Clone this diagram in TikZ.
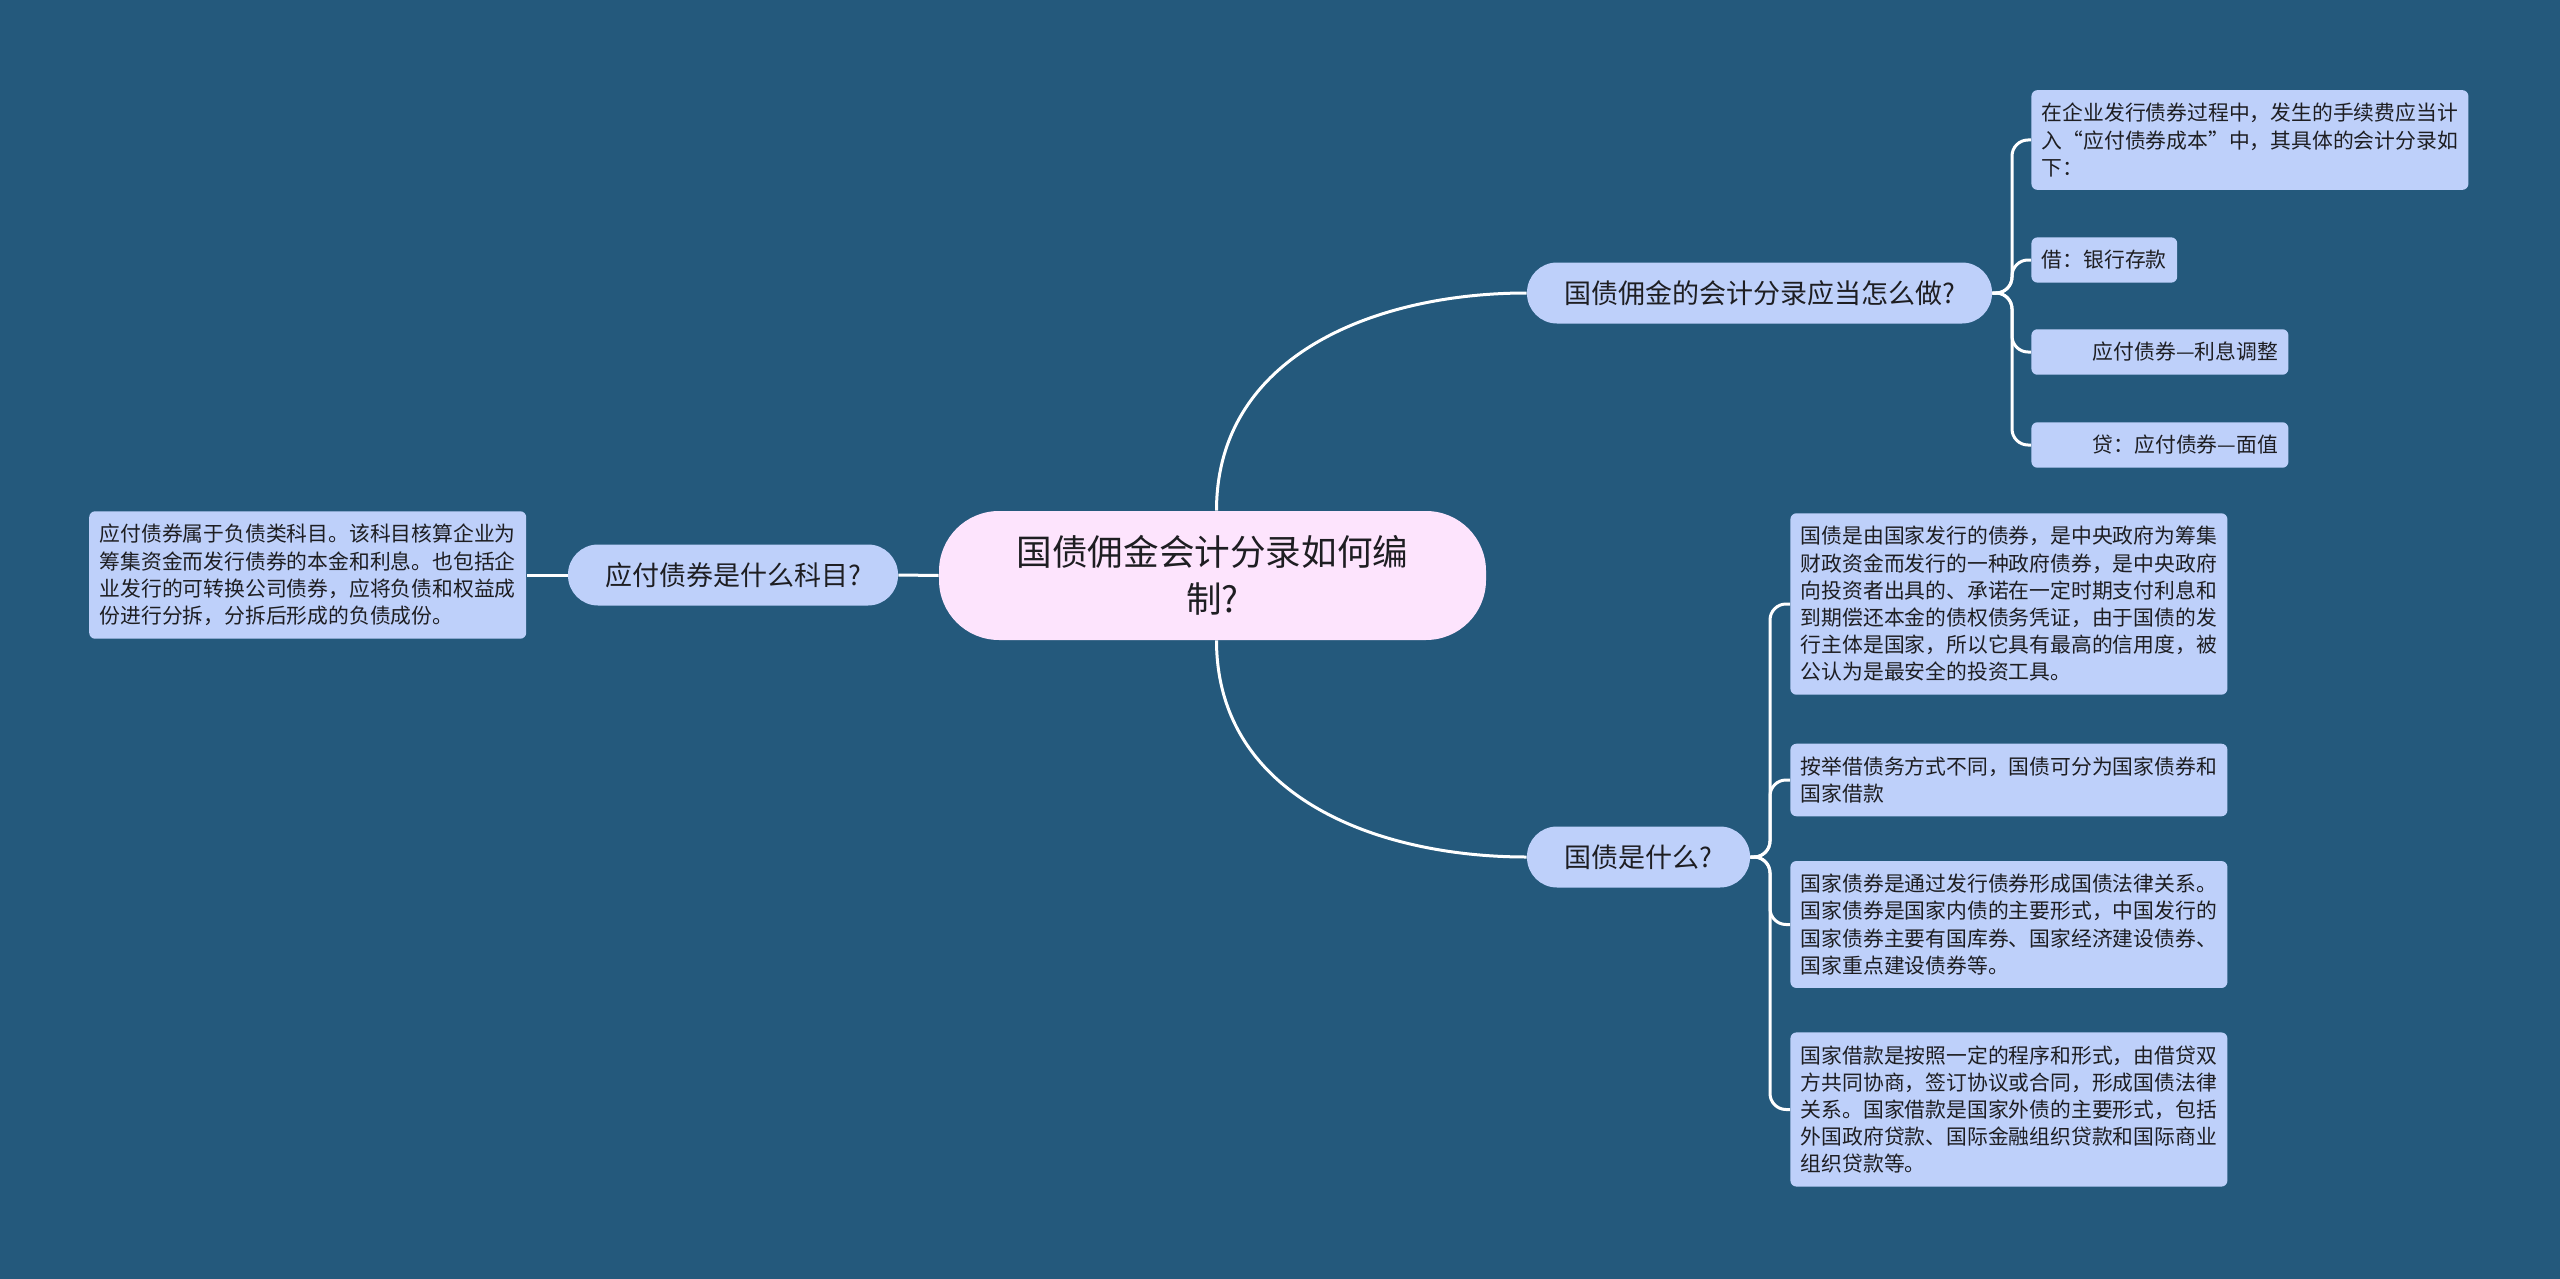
\documentclass[tikz,border=0pt]{standalone}
\usepackage{fontspec}
\setmainfont{Noto Sans CJK SC}
\definecolor{shutubg}{RGB}{36,89,124}
\definecolor{leafblue}{RGB}{190,208,250}
\definecolor{rootpink}{RGB}{253,228,253}
\definecolor{inkgray}{RGB}{30,30,34}
\usetikzlibrary{positioning}
\tikzset{
  root/.style={fill=rootpink, rounded corners=30pt, minimum width=273.5pt,
    minimum height=64.5pt, align=center, text=inkgray,
    font=\fontsize{17.8pt}{23.5pt}\selectfont},
  topic/.style={fill=leafblue, rounded corners=15pt, minimum height=30.5pt,
    text=inkgray, font=\fontsize{13.5pt}{16pt}\selectfont},
  leaf/.style={fill=leafblue, rounded corners=3pt, inner xsep=5.25pt,
    inner ysep=6.5pt, align=left, text=inkgray,
    font=\fontsize{10.4pt}{13.6pt}\selectfont},
  link/.style={draw=white, line width=1.5pt, rounded corners=8pt}
}

\begin{document}
\begin{tikzpicture}[x=0.5pt, y=-0.5pt]
  \fill[shutubg] (0,0) rectangle (2560,1279);
  \useasboundingbox (0,0) rectangle (2560,1279);

  \node [root] (c) at (1212.5,575.5) {国债佣金会计分录如何编\\制?};
  \node [topic, minimum width=232.5pt] (b1) at (1759.5,293) {国债佣金的会计分录应当怎么做?};
  \node [topic, minimum width=111.5pt] (b2) at (1638.5,857) {国债是什么?};
  \node [topic, minimum width=165pt] (bl) at (733,575) {应付债券是什么科目?};

  % right top
  \node [leaf, anchor=west] (l1) at (2031,140) {在企业发行债券过程中，发生的手续费应当计\\入“应付债券成本”中，其具体的会计分录如\\下：};
  \node [leaf, anchor=west] (l2) at (2031,260) {借：银行存款};
  \node [leaf, anchor=west, text width=118pt, align=right] (l3) at (2031,352) {应付债券—利息调整};
  \node [leaf, anchor=west, text width=118pt, align=right] (l4) at (2031,445) {贷：应付债券—面值};

  % right bottom
  \node [leaf, anchor=west] (m1) at (1790,604) {国债是由国家发行的债券，是中央政府为筹集\\财政资金而发行的一种政府债券，是中央政府\\向投资者出具的、承诺在一定时期支付利息和\\到期偿还本金的债权债务凭证，由于国债的发\\行主体是国家，所以它具有最高的信用度，被\\公认为是最安全的投资工具。};
  \node [leaf, anchor=west] (m2) at (1790,780) {按举借债务方式不同，国债可分为国家债券和\\国家借款};
  \node [leaf, anchor=west] (m3) at (1790,924.5) {国家债券是通过发行债券形成国债法律关系。\\国家债券是国家内债的主要形式，中国发行的\\国家债券主要有国库券、国家经济建设债券、\\国家重点建设债券等。};
  \node [leaf, anchor=west] (m4) at (1790,1109.5) {国家借款是按照一定的程序和形式，由借贷双\\方共同协商，签订协议或合同，形成国债法律\\关系。国家借款是国家外债的主要形式，包括\\外国政府贷款、国际金融组织贷款和国际商业\\组织贷款等。};

  % left
  \node [leaf, left=20.5pt of bl] (ll) {应付债券属于负债类科目。该科目核算企业为\\筹集资金而发行债券的本金和利息。也包括企\\业发行的可转换公司债券，应将负债和权益成\\份进行分拆，分拆后形成的负债成份。};

  \draw [link] ([xshift=2pt]c.north) .. controls +(0,-156) and +(-150,0) .. (b1.west);
  \draw [link] ([xshift=2pt]c.south) .. controls +(0,156) and +(-150,0) .. (b2.west);
  \draw [link] (c.west) -- (bl.east);
  \draw [link] (bl.west) -- (ll.east);

  \coordinate (j1) at (2012,293);
  \coordinate (j2) at (1770,857);
  \foreach \n in {l1,l2,l3,l4}
    \draw [link] (b1.east) -- (j1) |- (\n.west);
  \foreach \n in {m1,m2,m3,m4}
    \draw [link] (b2.east) -- (j2) |- (\n.west);

\end{tikzpicture}
\end{document}
